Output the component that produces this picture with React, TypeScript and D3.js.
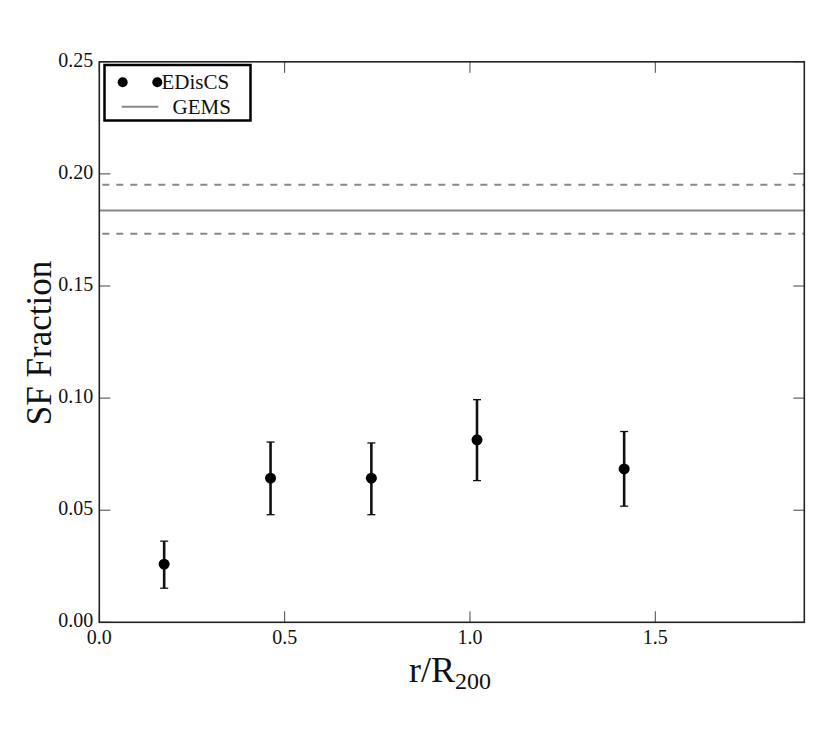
import React from "react";
import * as d3 from "d3";

const xValues = [0.175, 0.462, 0.734, 1.019, 1.416];
const yValues = [0.0259, 0.0643, 0.0643, 0.0814, 0.0684];
const yLow = [0.0152, 0.048, 0.048, 0.0632, 0.0518];
const yHigh = [0.0362, 0.0804, 0.080, 0.0993, 0.0851];
const gemsMean = 0.1837;
const gemsLow = 0.1733;
const gemsHigh = 0.1952;
const xTicks = [0.0, 0.5, 1.0, 1.5];
const yTicks = [0.0, 0.05, 0.1, 0.15, 0.2, 0.25];

const W = 830;
const H = 747;
const L = 99.3, R = 804.3, T = 61.8, B = 622.3;
const FONT = "'Liberation Serif', 'DejaVu Serif', serif";

export default function App() {
  const x = d3.scaleLinear().domain([0, 1.902]).range([L, R]);
  const y = d3.scaleLinear().domain([0, 0.25]).range([B, T]);
  const tickLen = 11;
  return (
    <div style={{ position: "absolute", left: 0, top: 0 }}>
      <svg width={W} height={H} style={{ display: "block", background: "#fff" }}>
        {/* GEMS lines */}
        <line x1={L} x2={R} y1={y(gemsMean)} y2={y(gemsMean)} stroke="#888" strokeWidth={2} />
        <line x1={L} x2={R} y1={y(gemsHigh)} y2={y(gemsHigh)} stroke="#888" strokeWidth={2} strokeDasharray="7,7" strokeDashoffset={-3} />
        <line x1={L} x2={R} y1={y(gemsLow)} y2={y(gemsLow)} stroke="#888" strokeWidth={2} strokeDasharray="7,7" strokeDashoffset={-3} />
        {/* error bars */}
        {xValues.map((xv, i) => (
          <g key={i}>
            <line x1={x(xv)} x2={x(xv)} y1={y(yLow[i])} y2={y(yHigh[i])} stroke="#111" strokeWidth={2.6} />
            <line x1={x(xv) - 4} x2={x(xv) + 4} y1={y(yLow[i])} y2={y(yLow[i])} stroke="#111" strokeWidth={1.3} />
            <line x1={x(xv) - 4} x2={x(xv) + 4} y1={y(yHigh[i])} y2={y(yHigh[i])} stroke="#111" strokeWidth={1.3} />
            <circle cx={x(xv)} cy={y(yValues[i])} r={5.5} fill="#000" />
          </g>
        ))}
        {/* ticks */}
        {xTicks.map((t) => (
          <g key={"x" + t}>
            <line x1={x(t)} x2={x(t)} y1={B} y2={B - tickLen} stroke="#444" strokeWidth={1} />
            <line x1={x(t)} x2={x(t)} y1={T} y2={T + tickLen} stroke="#444" strokeWidth={1} />
            <text x={x(t)} y={B + 22} textAnchor="middle" fontFamily={FONT} fontSize={20} fill="#111">
              {d3.format(".1f")(t)}
            </text>
          </g>
        ))}
        {yTicks.map((t) => (
          <g key={"y" + t}>
            <line x1={L} x2={L + tickLen} y1={y(t)} y2={y(t)} stroke="#444" strokeWidth={1} />
            <line x1={R} x2={R - tickLen} y1={y(t)} y2={y(t)} stroke="#444" strokeWidth={1} />
            <text x={L - 6} y={y(t) + 5} textAnchor="end" fontFamily={FONT} fontSize={20} fill="#111">
              {d3.format(".2f")(t)}
            </text>
          </g>
        ))}
        {/* frame */}
        <rect x={L} y={T} width={R - L} height={B - T} fill="none" stroke="#222" strokeWidth={1.6} />
        {/* legend */}
        <rect x={104.5} y={65} width={146} height={55.5} fill="#fff" stroke="#000" strokeWidth={2.5} />
        <circle cx={122.7} cy={82.3} r={5} fill="#000" />
        <circle cx={157.3} cy={82.3} r={5} fill="#000" />
        <text x={161.5} y={89} fontFamily={FONT} fontSize={21} fill="#111">EDisCS</text>
        <line x1={121.7} x2={158.3} y1={106.7} y2={106.7} stroke="#888" strokeWidth={2} />
        <text x={172.5} y={113.5} fontFamily={FONT} fontSize={21} fill="#111">GEMS</text>
        {/* axis labels */}
        <text transform={`translate(51, 343) rotate(-90)`} textAnchor="middle" fontFamily={FONT} fontSize={35} fill="#111">
          SF Fraction
        </text>
        <text x={450} y={682} textAnchor="middle" fontFamily={FONT} fontSize={36} fill="#111">
          r/R<tspan fontSize={24} dy={7}>200</tspan>
        </text>
      </svg>
    </div>
  );
}
